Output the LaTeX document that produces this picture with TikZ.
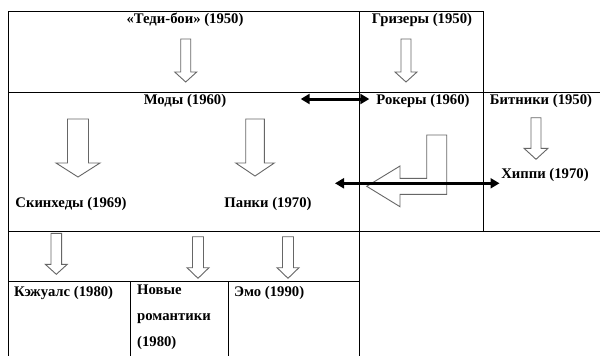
\documentclass[tikz,border=0pt]{standalone}
\usepackage{fontspec}
\setmainfont{Liberation Serif}
\usetikzlibrary{arrows.meta}
\tikzset{
  lbl/.style={inner sep=0pt, font=\fontsize{14.7}{17.6}\selectfont\bfseries},
  grid/.style={draw=black, line width=0.9pt},
  blk/.style={draw=black!60, fill=white, line width=0.9pt, line join=miter},
  dbl/.style={draw=black, line width=3pt, {Triangle[length=9pt,width=10pt]}-{Triangle[length=9pt,width=10pt]}}
}
\newcommand\blockdn[6]{%
  \draw[blk] ({#1-#5},#2) -- ({#1+#5},#2) -- ({#1+#5},#3) -- ({#1+#6},#3) -- (#1,#4) -- ({#1-#6},#3) -- ({#1-#5},#3) -- cycle;}
\begin{document}
\begin{tikzpicture}[x=1pt,y=-1pt]
\useasboundingbox[fill=white] (0,0) rectangle (600,356);
% table lines
\draw[grid] (8,356) -- (8,11) -- (483,11);
\draw[grid] (8,92) -- (600,92);
\draw[grid] (8,231) -- (600,231);
\draw[grid] (8,281) -- (359,281);
\draw[grid] (359,11) -- (359,356);
\draw[grid] (483,11) -- (483,231);
\draw[grid] (130,281) -- (130,356);
\draw[grid] (228,281) -- (228,356);
% labels
\node[lbl] (tedi) at (185,20) {«Теди-бои» (1950)};
\node[lbl] (griz) at (422,20) {Гризеры (1950)};
\node[lbl] (mody) at (185,101) {Моды (1960)};
\node[lbl] (rok) at (423,101) {Рокеры (1960)};
\node[lbl] (bit) at (541,101) {Битники (1950)};
\node[lbl] (hip) at (545,175) {Хиппи (1970)};
\node[lbl] (skin) at (71,204) {Скинхеды (1969)};
\node[lbl] (panki) at (268,204) {Панки (1970)};
\node[lbl, anchor=west] (kezh) at (14,293) {Кэжуалс (1980)};
\node[lbl, anchor=west, align=left, font=\fontsize{14.7}{25.8}\selectfont\bfseries] (nov) at (137,317.5) {Новые\\романтики\\(1980)};
\node[lbl, anchor=west] (emo) at (234,293) {Эмо (1990)};
% block arrows
\blockdn{185.7}{39}{72}{82}{5}{11}
\blockdn{406}{39}{72}{82}{5}{11}
\blockdn{78}{119}{163}{177}{10.5}{22}
\blockdn{255}{119}{163}{176}{9.3}{19.3}
\blockdn{536}{117.7}{148.3}{159.3}{5}{12}
\blockdn{56.3}{233.3}{264.3}{274.3}{5.3}{11}
\blockdn{198}{236.7}{267.7}{278.3}{5.5}{11}
\blockdn{288}{236.7}{267.7}{278.3}{5.5}{11}
\draw[blk] (426.7,135) -- (446.7,135) -- (446.7,194.3) -- (400,194.3) -- (400,206.7) -- (366.7,186.3) -- (400,166) -- (400,178.3) -- (426.7,178.3) -- cycle;
% double arrows
\coordinate (d1a) at (300.7,99);
\coordinate (d1b) at (369.3,99);
\coordinate (d2a) at (335,183.3);
\coordinate (d2b) at (499.5,183.3);
\draw[dbl] (d1a) -- (d1b);
\draw[dbl] (d2a) -- (d2b);
\end{tikzpicture}
\end{document}
